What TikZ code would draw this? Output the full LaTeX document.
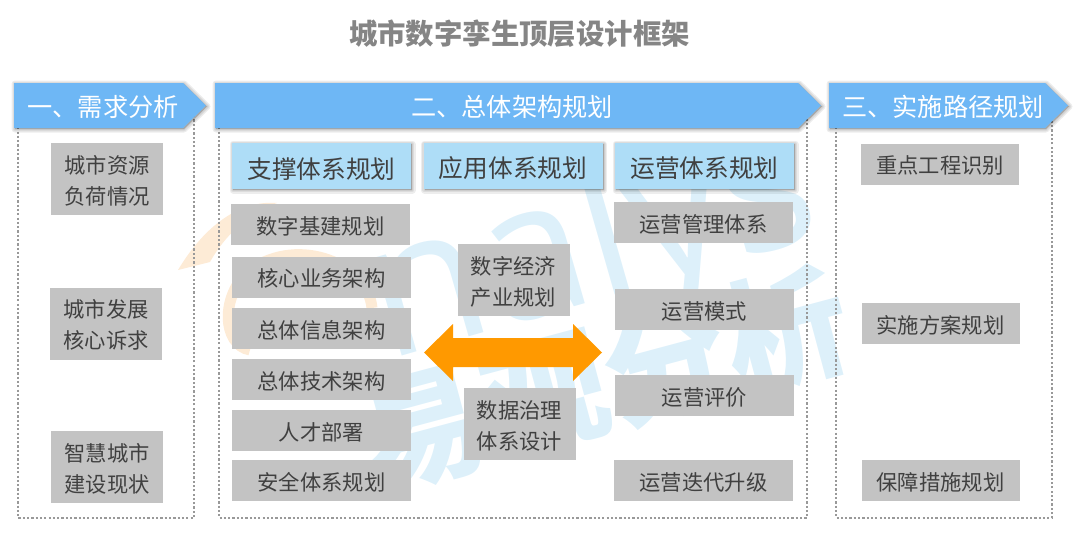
\documentclass[tikz,border=0pt]{standalone}
\usepackage{fontspec}
\setmainfont{Noto Sans CJK SC}
\newfontfamily\latinfont{Open Sans}
\definecolor{headblue}{HTML}{6EB7F5}
\definecolor{subblue}{HTML}{AEDDF7}
\definecolor{boxgray}{HTML}{C3C3C3}
\definecolor{textgray}{HTML}{404040}
\definecolor{titlegray}{HTML}{858585}
\definecolor{markblue}{HTML}{DDF0FA}
\definecolor{markorange}{HTML}{FDEBD6}
\definecolor{arroworange}{HTML}{FF9900}
\tikzset{
  % Soft shadow under the blue shapes
  softlayer/.style={preaction={draw=black, fill=black, line join=round,
      line width=#1, draw opacity=0.07, fill opacity=0.07,
      transform canvas={shift={(1pt,-1pt)}}}},
  softshadow/.style={softlayer=7pt, softlayer=4.5pt, softlayer=2pt},
  % Banner arrows
  headarrow/.style={fill=headblue, softshadow},
  headtext/.style={text=white, font=\fontsize{25.2}{30}\selectfont},
  % Sub headers
  subbox/.style={fill=subblue, softshadow, text=textgray, inner sep=0pt,
    minimum height=46pt, minimum width=179pt,
    execute at begin node={\rule{0pt}{26pt}},
    font=\fontsize{24.7}{30}\selectfont},
  % Gray boxes
  grayfill/.style={fill=boxgray, text=textgray, inner sep=0pt, align=center,
    minimum height=41pt, minimum width=179pt,
    font=\fontsize{21.3}{31}\selectfont},
  graybox/.style={grayfill, execute at begin node={\rule{0pt}{21pt}}},
  tallbox/.style={grayfill, minimum height=72pt, minimum width=112pt,
    text height=55pt, text depth=5pt},
  widebox/.style={graybox, minimum width=158pt},
  % Dotted frames
  frame/.style={draw=black!40, line width=2.4pt, dash pattern=on 2.2pt off 2.1pt},
  % Watermark
  marktext/.style={text=markblue, inner sep=0pt},
}

\begin{document}
\begin{tikzpicture}[x=1pt, y=-1pt]
  \useasboundingbox (0,0) rectangle (1080,533);

  % Watermark
  \fill[markorange] (178,270) .. controls (205,225) and (240,200) .. (277,203)
    .. controls (250,212) and (225,235) .. (210,262) -- cycle;
  \draw[markorange, line width=11pt] (372,308) .. controls (368,265) and (300,235)
    .. (250,270) .. controls (220,295) and (222,345) .. (250,350);
  \node[marktext, rotate=16, font=\latinfont\fontsize{190}{190}\selectfont] (marklatin) at (592,250) {nalys};
  \node[marktext, rotate=15, font=\bfseries\fontsize{125}{125}\selectfont] (markcjk) at (605,378) {易观分析};

  % Dotted frames
  \draw[frame] (18,110) rectangle (194,518);
  \draw[frame] (219,110) rectangle (807,518);
  \draw[frame] (836,110) rectangle (1052,518);

  % Title
  \node[text=titlegray, font=\fontsize{28.4}{34}\selectfont\bfseries] (title) at (519.5,33.5) {城市数字孪生顶层设计框架};

  % Banners
  \fill[headarrow] (14,83) -- (183,83) -- (206,105.5) -- (183,128) -- (14,128) -- cycle;
  \fill[headarrow] (215,83) -- (798,83) -- (821,105.5) -- (798,128) -- (215,128) -- cycle;
  \fill[headarrow] (829,83) -- (1045,83) -- (1068,105.5) -- (1045,128) -- (829,128) -- cycle;
  \node[headtext] (head1) at (103,107) {一、需求分析};
  \node[headtext] (head2) at (512,107) {二、总体架构规划};
  \node[headtext] (head3) at (943,107) {三、实施路径规划};

  % Sub headers
  \node[subbox] (support) at (321.5,166) {支撑体系规划};
  \node[subbox] (apply) at (513,166) {应用体系规划};
  \node[subbox] (operate) at (704.5,166) {运营体系规划};

  % Demand column
  \node[tallbox] (resource) at (107,179) {城市资源\\负荷情况};
  \node[tallbox] (develop) at (106,323.5) {城市发展\\核心诉求};
  \node[tallbox] (smart) at (107,467) {智慧城市\\建设现状};

  % Support column
  \node[graybox] (infra) at (320.5,224.5) {数字基建规划};
  \node[graybox] (business) at (321.5,277) {核心业务架构};
  \node[graybox] (inform) at (321.5,328.5) {总体信息架构};
  \node[graybox] (tech) at (321.5,379.5) {总体技术架构};
  \node[graybox] (talent) at (321.5,430.5) {人才部署};
  \node[graybox] (security) at (321.5,480.5) {安全体系规划};

  % Middle column
  \node[tallbox] (economy) at (513.5,280) {数字经济\\产业规划};
  \node[tallbox] (govern) at (519.5,424) {数据治理\\体系设计};
  \fill[arroworange] (424,352.5) -- (453,324) -- (453,338) -- (573,338) -- (573,324)
    -- (602,352.5) -- (573,381) -- (573,367) -- (453,367) -- (453,381) -- cycle;

  % Operate column
  \node[graybox] (manage) at (703.5,222.5) {运营管理体系};
  \node[graybox] (mode) at (704.5,309.5) {运营模式};
  \node[graybox] (review) at (704.5,395.5) {运营评价};
  \node[graybox] (iterate) at (703.5,480.5) {运营迭代升级};

  % Path column
  \node[widebox] (project) at (940,164) {重点工程识别};
  \node[widebox] (scheme) at (940.5,323.5) {实施方案规划};
  \node[widebox] (secure) at (940.5,480.5) {保障措施规划};
\end{tikzpicture}
\end{document}
